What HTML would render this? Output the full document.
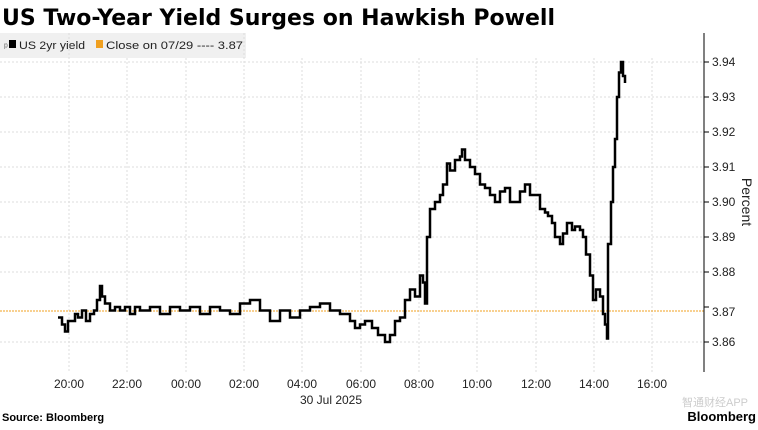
<!DOCTYPE html>
<html><head><style>
body{margin:0;background:#fff;width:758px;height:425px;overflow:hidden;font-family:"Liberation Sans",sans-serif;}
</style></head><body>
<svg width="758" height="425" xmlns="http://www.w3.org/2000/svg" font-family="Liberation Sans, sans-serif">
<text x="2" y="25" font-size="22" font-weight="bold" fill="#000" font-family="DejaVu Sans, sans-serif" textLength="553" lengthAdjust="spacingAndGlyphs">US Two-Year Yield Surges on Hawkish Powell</text>
<rect x="0" y="33" width="246" height="25" fill="#f0f0f0"/>
<text x="4" y="50" font-size="10" fill="#666">ᵖ</text>
<rect x="9" y="40" width="7" height="8" fill="#000"/>
<text x="19" y="49" font-size="11" fill="#222" textLength="66" lengthAdjust="spacingAndGlyphs">US 2yr yield</text>
<rect x="96" y="40" width="7" height="8" fill="#f0a020"/>
<text x="106" y="49" font-size="11" fill="#222" textLength="137" lengthAdjust="spacingAndGlyphs">Close on 07/29 ---- 3.87</text>
<g stroke="#ddd" stroke-width="1" stroke-dasharray="2,2">
<line x1="69" y1="33" x2="69" y2="372"/><line x1="127" y1="58" x2="127" y2="372"/><line x1="186" y1="58" x2="186" y2="372"/><line x1="244" y1="33" x2="244" y2="372"/><line x1="302" y1="58" x2="302" y2="372"/><line x1="361" y1="58" x2="361" y2="372"/><line x1="419" y1="58" x2="419" y2="372"/><line x1="477" y1="58" x2="477" y2="372"/><line x1="536" y1="58" x2="536" y2="372"/><line x1="594" y1="58" x2="594" y2="372"/><line x1="652" y1="58" x2="652" y2="372"/>
<line x1="0" y1="62" x2="704" y2="62"/><line x1="0" y1="97" x2="704" y2="97"/><line x1="0" y1="132" x2="704" y2="132"/><line x1="0" y1="167" x2="704" y2="167"/><line x1="0" y1="202" x2="704" y2="202"/><line x1="0" y1="237" x2="704" y2="237"/><line x1="0" y1="272" x2="704" y2="272"/><line x1="0" y1="342" x2="704" y2="342"/>
</g>
<line x1="0" y1="311" x2="704" y2="311" stroke="#f0a020" stroke-width="1" stroke-dasharray="2,1"/>
<line x1="704" y1="33" x2="704" y2="372" stroke="#000"/>
<g font-size="12" fill="#222">
<line x1="704" y1="62" x2="709" y2="62" stroke="#000"/><text x="712" y="66">3.94</text>
<line x1="704" y1="97" x2="709" y2="97" stroke="#000"/><text x="712" y="101">3.93</text>
<line x1="704" y1="132" x2="709" y2="132" stroke="#000"/><text x="712" y="136">3.92</text>
<line x1="704" y1="167" x2="709" y2="167" stroke="#000"/><text x="712" y="171">3.91</text>
<line x1="704" y1="202" x2="709" y2="202" stroke="#000"/><text x="712" y="206">3.90</text>
<line x1="704" y1="237" x2="709" y2="237" stroke="#000"/><text x="712" y="241">3.89</text>
<line x1="704" y1="272" x2="709" y2="272" stroke="#000"/><text x="712" y="276">3.88</text>
<line x1="704" y1="307" x2="709" y2="307" stroke="#000"/><text x="712" y="316">3.87</text>
<line x1="704" y1="342" x2="709" y2="342" stroke="#000"/><text x="712" y="346">3.86</text>
<text transform="translate(742,202) rotate(90)" text-anchor="middle" font-size="14">Percent</text>
</g>
<g font-size="12" fill="#222" text-anchor="middle">
<text x="69" y="388">20:00</text><text x="127" y="388">22:00</text><text x="186" y="388">00:00</text><text x="244" y="388">02:00</text><text x="302" y="388">04:00</text><text x="361" y="388">06:00</text><text x="419" y="388">08:00</text><text x="477" y="388">10:00</text><text x="536" y="388">12:00</text><text x="594" y="388">14:00</text><text x="652" y="388">16:00</text>
<text x="331" y="404">30 Jul 2025</text>
</g>
<text x="2" y="421" font-size="11" font-weight="bold" fill="#000">Source: Bloomberg</text>
<text x="756" y="421" font-size="13" font-weight="bold" fill="#000" text-anchor="end">Bloomberg</text>
<text x="748" y="406" font-size="11" fill="#ccc" text-anchor="end">智通财经APP</text>
<path fill="none" stroke="#000" stroke-width="2.5" d="M58,317.5 H62 V324.5 H65 V331.5 H68 V321 H72 V321 H75 V314 H78 V317.5 H82 V310.5 H86 V321 H90 V314 H94 V310.5 H97 V300 H100 V286 H102 V296.5 H105 V303.5 H110 V310.5 H115 V307 H120 V310.5 H125 V307 H130 V314 H135 V307 H140 V310.5 H150 V307 H160 V314 H170 V307 H180 V310.5 H190 V307 H200 V314 H210 V307 H220 V310.5 H230 V314 H240 V303.5 H250 V300 H260 V310.5 H270 V321 H280 V310.5 H290 V317.5 H300 V310.5 H310 V307 H320 V303.5 H330 V310.5 H340 V314 H350 V321 H355 V328 H360 V324.5 H365 V321 H372 V328 H378 V335 H385 V342 H390 V335 H395 V321 H400 V317.5 H405 V300 H410 V289.5 H415 V296.5 H420 V275.5 H423 V282.5 H425 V303.5 H427 V237 H430 V209 H435 V202 H440 V195 H443 V184.5 H447 V163.5 H450 V170.5 H455 V160 H460 V156.5 H462 V149.5 H465 V160 H470 V167 H475 V174 H480 V184.5 H485 V188 H490 V195 H495 V202 H500 V191.5 H505 V188 H510 V202 H515 V202 H520 V191.5 H525 V184.5 H530 V195 H535 V195 H540 V209 H545 V212.5 H548 V216 H552 V223 H555 V237 H560 V244 H563 V233.5 H567 V223 H572 V230 H575 V226.5 H580 V230 H583 V237 H586 V254.5 H590 V275.5 H593 V300 H596 V289.5 H600 V296.5 H603 V314 H605 V324.5 H607 V338.5 H608 V244 H611 V202 H613 V167 H615 V139 H617 V97 H619 V72.5 H621 V62 H623 V76 H625 V83"/>
</svg>
</body></html>
